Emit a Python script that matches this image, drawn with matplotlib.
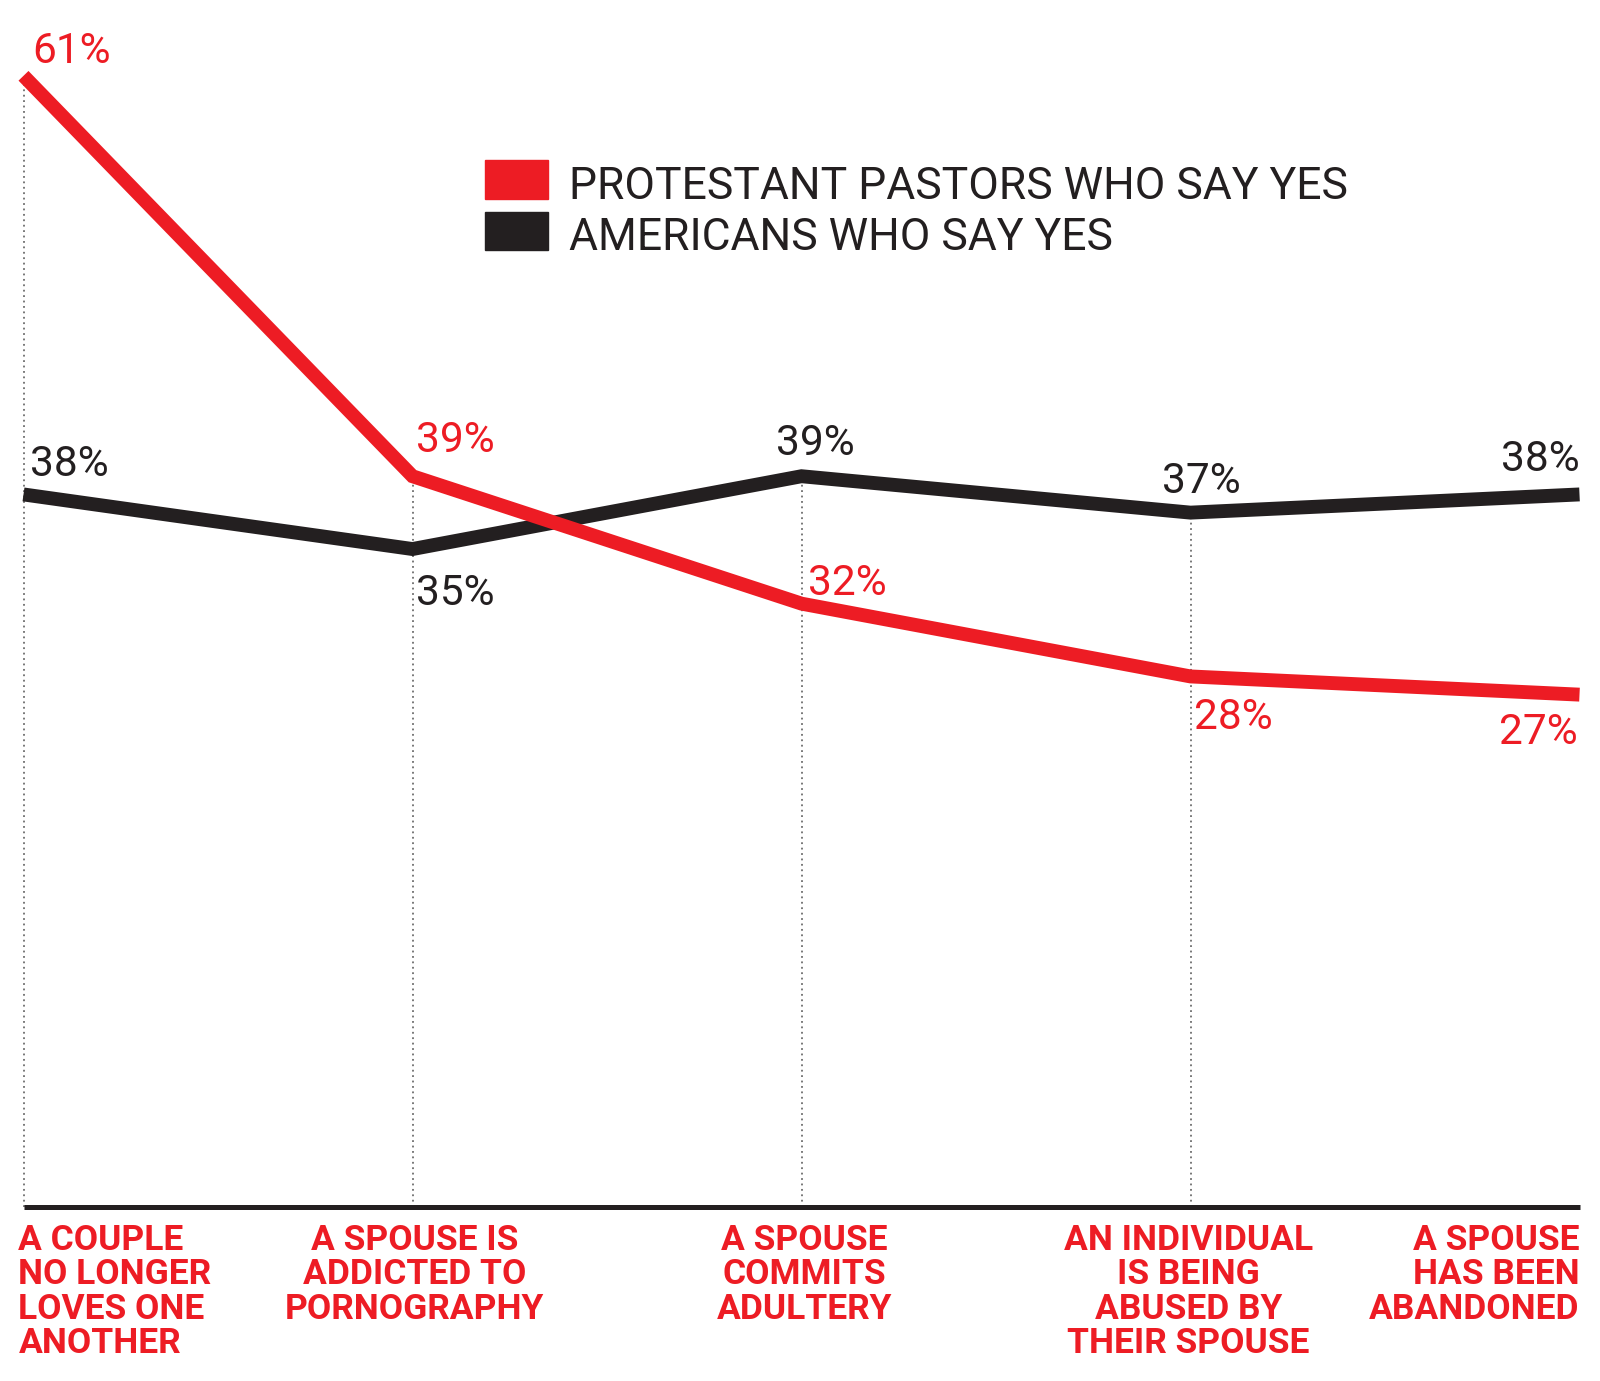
import matplotlib
matplotlib.use("Agg")
import matplotlib.pyplot as plt
from matplotlib.patches import Rectangle

# data
categories = [
    "A COUPLE\nNO LONGER\nLOVES ONE\nANOTHER",
    "A SPOUSE IS\nADDICTED TO\nPORNOGRAPHY",
    "A SPOUSE\nCOMMITS\nADULTERY",
    "AN INDIVIDUAL\nIS BEING\nABUSED BY\nTHEIR SPOUSE",
    "A SPOUSE\nHAS BEEN\nABANDONED",
]
pastors = [61, 39, 32, 28, 27]
americans = [38, 35, 39, 37, 38]
series_names = ["PROTESTANT PASTORS WHO SAY YES", "AMERICANS WHO SAY YES"]

RED = "#ED1C24"
BLACK = "#231F20"
W, H = 1600, 1381

fig = plt.figure(figsize=(W / 100, H / 100), dpi=100)
ax = fig.add_axes([23.5 / W, (H - 1207) / H, 1556 / W, 1204 / H])
ax.set_xlim(0, 4)
ax.set_ylim(-1.15, 65)
ax.axis("off")

x = list(range(len(categories)))

# dotted guides up to the higher of the two values (none on the last one)
for i in x[:-1]:
    ax.plot([i, i], [-1.15, max(pastors[i], americans[i])], color="#6d6d6d",
            lw=1.3, ls=(0, (1, 2)), zorder=1, clip_on=False)

ax.plot(x, americans, color=BLACK, lw=10, solid_joinstyle="miter",
        solid_capstyle="butt", zorder=3, clip_on=False)
ax.plot(x, pastors, color=RED, lw=10, solid_joinstyle="miter",
        solid_capstyle="butt", zorder=4, clip_on=False)

# baseline
ax.plot([0, 4], [-1.15, -1.15], color=BLACK, lw=3.6, solid_capstyle="butt",
        zorder=5, clip_on=False)

pct_font = dict(family=["Roboto", "DejaVu Sans"], fontsize=30.5, fontweight="normal")

# value labels: (dx, dy, ha) offsets in pixels
red_offsets = [(9, 13, "left"), (4, 24, "left"), (6, 9, "left"),
               (3, -53, "left"), (-2, -49, "right")]
black_offsets = [(7, 18, "left"), (4, -56, "left"), (-26, 21, "left"),
                 (-28, 20, "left"), (0, 23, "right")]

for i in x:
    dx, dy, ha = red_offsets[i]
    ax.annotate(f"{pastors[i]}%", (i, pastors[i]), xytext=(dx, dy),
                textcoords="offset pixels", ha=ha, va="baseline",
                color=RED, annotation_clip=False, **pct_font)
    dx, dy, ha = black_offsets[i]
    ax.annotate(f"{americans[i]}%", (i, americans[i]), xytext=(dx, dy),
                textcoords="offset pixels", ha=ha, va="baseline",
                color=BLACK, annotation_clip=False, **pct_font)

# category labels under the baseline
cat_font = dict(family=["Roboto", "DejaVu Sans"], fontsize=25.5,
                fontweight="bold", color=RED, linespacing=1.05)
cat_align = ["left", "center", "center", "center", "right"]
cat_dx = [-5, 2, 3, -2, 0]
for i in x:
    ax.annotate(categories[i], (i, -1.15), xytext=(cat_dx[i], -17),
                textcoords="offset pixels", ha=cat_align[i], va="top",
                multialignment=cat_align[i], annotation_clip=False, **cat_font)

# legend
leg_font = dict(family=["Roboto", "DejaVu Sans"], fontsize=32,
                fontweight="normal", color=BLACK)
for (top, bot), name, col in zip([(160, 199), (212, 250)], series_names, [RED, BLACK]):
    fig.patches.append(Rectangle((485 / W, 1 - bot / H), 63 / W, (bot - top) / H,
                                 transform=fig.transFigure, color=col))
    fig.text(569 / W, 1 - bot / H, name, ha="left", va="baseline", **leg_font)

fig.savefig("out.png", dpi=100)
